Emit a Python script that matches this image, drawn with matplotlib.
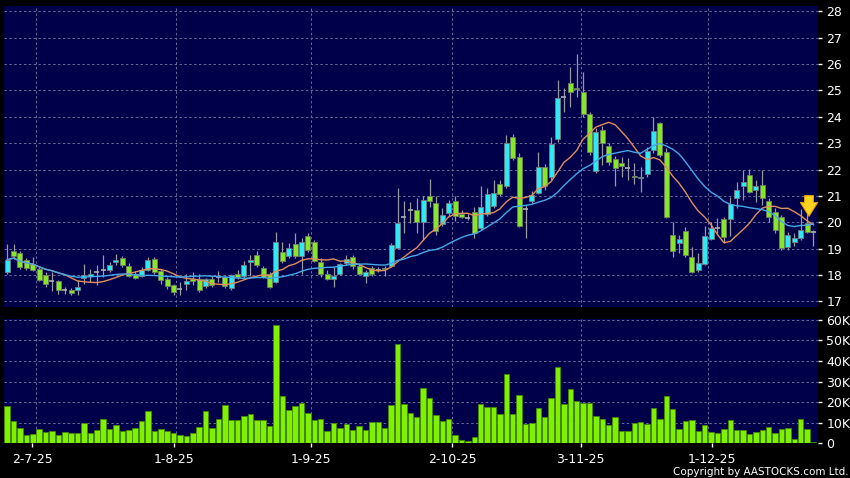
import matplotlib
matplotlib.use("Agg")
import matplotlib.pyplot as plt
import pandas as pd

# ---- daily OHLC (25-6-25 .. end of Dec 25) ----
opens = [18.13, 18.90, 18.84, 18.58, 18.43, 18.24, 17.99, 17.76, 17.77, 17.42,
         17.45, 17.42, 17.90, 17.96, 18.12, 18.18, 18.18, 18.50, 18.66, 18.36,
         18.05, 17.95, 18.20, 18.62, 18.15, 17.86, 17.61, 17.48, 17.67, 17.86,
         17.86, 17.58, 17.86, 17.92, 17.92, 17.50, 18.04, 17.97, 18.50, 18.76,
         18.26, 18.03, 17.75, 18.89, 18.72, 19.17, 18.72, 19.50, 19.24, 18.51,
         18.03, 17.86, 18.03, 18.45, 18.70, 18.36, 17.97, 18.28, 18.20, 18.27,
         18.34, 19.02, 20.19, 20.48, 20.48, 20.01, 20.98, 20.73, 19.95, 20.35,
         20.79, 20.31, 20.17, 20.41, 19.78, 20.33, 20.63, 21.46, 21.38, 23.25,
         22.47, 20.50, 20.79, 21.13, 22.09, 21.71, 23.15, 24.76, 25.27, 25.09,
         24.95, 24.11, 21.93, 23.50, 22.90, 22.39, 22.24, 22.05, 21.77, 21.67,
         21.83, 22.74, 23.75, 22.68, 19.52, 19.20, 19.68, 18.70, 18.19, 18.42,
         19.35, 19.80, 20.11, 20.11, 20.91, 21.38, 21.79, 21.22, 21.41, 20.81,
         20.40, 20.21, 19.05, 19.24, 19.39, 19.98, 19.62]
highs = [19.19, 19.16, 18.90, 18.65, 18.68, 18.30, 18.12, 18.12, 17.80, 17.55,
         17.52, 17.80, 18.43, 18.25, 18.40, 18.75, 18.48, 18.80, 18.72, 18.45,
         18.17, 18.30, 18.70, 18.70, 18.24, 17.92, 17.67, 17.74, 18.05, 18.12,
         18.05, 17.90, 17.95, 18.17, 18.00, 18.05, 18.20, 18.55, 18.76, 18.93,
         18.35, 18.13, 19.65, 19.27, 19.20, 19.61, 19.39, 19.60, 19.33, 18.64,
         18.20, 18.32, 18.47, 18.76, 18.76, 18.45, 18.20, 18.35, 18.30, 18.35,
         19.20, 21.30, 20.82, 20.78, 20.92, 21.00, 21.64, 20.98, 20.54, 20.86,
         21.00, 20.45, 20.30, 20.60, 21.36, 21.30, 21.61, 21.61, 23.31, 23.35,
         22.62, 20.65, 21.17, 22.65, 22.21, 23.25, 25.39, 25.08, 25.87, 26.38,
         25.71, 24.20, 23.56, 23.65, 23.00, 22.50, 22.49, 22.42, 22.24, 22.11,
         22.87, 24.00, 23.81, 22.81, 20.02, 19.52, 19.83, 19.08, 18.82, 19.86,
         20.02, 20.15, 20.21, 20.95, 21.54, 21.98, 22.04, 21.60, 22.00, 20.91,
         20.53, 20.27, 19.65, 19.58, 20.49, 20.34, 19.71]
lows = [18.05, 18.62, 18.25, 18.20, 18.15, 17.78, 17.55, 17.38, 17.29, 17.30,
        17.23, 17.25, 17.67, 17.74, 17.63, 17.93, 18.12, 18.39, 18.30, 17.93,
        17.87, 17.93, 18.15, 18.06, 17.68, 17.48, 17.23, 17.23, 17.42, 17.64,
        17.36, 17.52, 17.55, 17.75, 17.50, 17.45, 17.85, 17.90, 17.97, 18.30,
        17.90, 17.50, 17.70, 18.45, 18.63, 18.63, 18.05, 18.88, 18.51, 17.94,
        17.81, 17.56, 18.00, 18.38, 18.25, 18.00, 17.70, 17.98, 18.10, 17.95,
        18.29, 18.99, 19.58, 19.96, 19.60, 19.34, 20.60, 19.53, 19.85, 20.23,
        20.04, 20.16, 20.10, 19.40, 19.72, 20.23, 20.54, 20.98, 21.29, 22.37,
        19.82, 19.40, 20.73, 21.08, 21.23, 21.61, 23.06, 24.20, 24.39, 24.76,
        24.00, 22.55, 21.87, 22.18, 22.18, 21.36, 21.73, 21.60, 21.45, 21.16,
        21.73, 22.61, 22.49, 20.15, 18.70, 18.83, 18.70, 18.09, 18.13, 18.38,
        19.32, 19.58, 19.20, 19.50, 20.53, 20.84, 21.10, 20.78, 20.66, 20.02,
        19.58, 18.97, 18.97, 19.10, 19.33, 19.58, 19.10]
closes = [18.58, 18.71, 18.30, 18.28, 18.20, 17.82, 17.67, 17.76, 17.44, 17.42,
          17.34, 17.55, 18.01, 18.05, 18.12, 18.18, 18.40, 18.58, 18.38, 17.98,
          17.90, 18.20, 18.56, 18.12, 17.82, 17.57, 17.36, 17.48, 17.76, 17.77,
          17.42, 17.85, 17.61, 17.92, 17.59, 18.00, 17.91, 18.38, 18.56, 18.38,
          17.94, 17.56, 19.27, 18.52, 19.02, 18.72, 19.24, 18.95, 18.55, 18.04,
          17.85, 17.97, 18.41, 18.62, 18.34, 18.03, 18.10, 18.03, 18.20, 18.22,
          19.14, 19.96, 20.19, 20.48, 20.00, 20.83, 20.80, 19.66, 20.29, 20.73,
          20.25, 20.22, 20.17, 19.59, 20.60, 21.07, 21.10, 21.08, 23.00, 22.43,
          19.85, 20.50, 21.04, 22.09, 21.38, 22.97, 24.70, 24.76, 24.95, 25.04,
          24.11, 22.68, 23.44, 23.00, 22.27, 22.05, 22.13, 22.05, 21.70, 21.73,
          22.72, 23.47, 22.55, 20.19, 18.92, 19.35, 18.76, 18.13, 18.44, 19.48,
          19.77, 19.80, 19.43, 20.69, 21.22, 21.54, 21.16, 21.38, 20.91, 20.21,
          19.71, 19.01, 19.52, 19.39, 19.71, 19.62, 19.62]
# volume in thousands of shares
volumes_k = [18.1, 10.8, 7.4, 4.2, 4.7, 6.8, 5.5, 6.0, 3.9, 5.5,
             5.0, 5.3, 10.0, 5.0, 6.6, 11.8, 6.8, 8.9, 6.1, 6.5,
             7.4, 11.0, 15.5, 6.0, 6.8, 6.0, 4.9, 4.0, 3.7, 5.0,
             8.1, 15.5, 7.4, 11.8, 18.6, 11.2, 11.3, 13.4, 14.4, 11.2,
             11.2, 8.6, 57.4, 23.0, 16.2, 18.3, 19.6, 14.9, 11.3, 12.1,
             6.1, 9.9, 7.6, 9.4, 6.5, 8.3, 6.3, 10.5, 10.5, 7.3,
             18.6, 48.2, 18.9, 14.9, 12.6, 27.0, 22.0, 13.6, 10.7, 11.8,
             3.9, 1.5, 1.3, 3.1, 19.1, 17.6, 17.8, 14.2, 33.8, 14.1,
             23.3, 9.4, 10.0, 17.2, 12.6, 22.0, 36.9, 18.9, 26.5, 20.4,
             19.6, 19.4, 13.3, 11.7, 8.9, 13.0, 6.2, 6.2, 9.9, 10.4,
             9.6, 17.3, 12.0, 22.9, 16.9, 6.8, 10.7, 11.3, 6.0, 8.9,
             5.5, 4.9, 7.0, 11.3, 6.3, 6.6, 4.5, 5.8, 6.6, 7.8,
             4.9, 6.8, 7.5, 2.4, 11.8, 7.1, 0.6]

date_labels = ["2-7-25", "1-8-25", "1-9-25", "2-10-25", "3-11-25", "1-12-25"]
date_ticks = [3.92, 26.1, 47.4, 69.55, 89.6, 110.1]
date_grid = [4.5, 26.4, 47.4, 69.55, 89.6, 109.5]
price_ticks = list(range(17, 29))
vol_ticks = [0, 10, 20, 30, 40, 50, 60]
vol_labels = ["0", "10K", "20K", "30K", "40K", "50K", "60K"]

NAVY = "#00004a"
GRID = "#6a6a9c"
UP = "#2ee8f2"
DOWN = "#86e62a"
WICK = "#9a9a9a"

df = pd.DataFrame({"o": opens, "h": highs, "l": lows, "c": closes, "v": volumes_k})
df["ma10"] = df["c"].rolling(10, min_periods=1).mean()
df["ma20"] = df["c"].rolling(20, min_periods=1).mean()
x = df.index.values

fig = plt.figure(figsize=(8.5, 4.78), dpi=100, facecolor="black")
ax1 = fig.add_axes([0.0047, 0.3577, 0.9576, 0.6297], facecolor=NAVY)
ax2 = fig.add_axes([0.0047, 0.0722, 0.9576, 0.2604], facecolor=NAVY)

for ax in (ax1, ax2):
    ax.set_xlim(-0.5, 126.7)
    for s in ax.spines.values():
        s.set_visible(False)
    ax.yaxis.tick_right()
    ax.tick_params(axis="y", colors="white", labelcolor="white", length=3,
                   width=1, pad=3, labelsize=9)
    for g in date_grid:
        ax.axvline(g, color=GRID, lw=0.7, ls=(0, (2.5, 2.5)), zorder=0)

# ---- price panel ----
ax1.set_ylim(16.79, 28.2)
ax1.set_yticks(price_ticks)
ax1.set_xticks([])
for p in price_ticks:
    ax1.axhline(p, color=GRID, lw=0.7, ls=(0, (2.5, 2.5)), zorder=0)

ax1.vlines(x, df["l"], df["h"], color=WICK, lw=0.9, zorder=2)
up = df["c"] > df["o"]
dn = df["c"] < df["o"]
eq = df["c"] == df["o"]
w = 0.78
ax1.bar(x[up], (df["c"] - df["o"])[up], bottom=df["o"][up], width=w,
        color=UP, edgecolor="#6f7f86", lw=0.6, zorder=3)
ax1.bar(x[dn], (df["o"] - df["c"])[dn], bottom=df["c"][dn], width=w,
        color=DOWN, edgecolor="#6f8060", lw=0.6, zorder=3)
ax1.hlines(df["c"][eq], x[eq] - w / 2, x[eq] + w / 2, color="#b0b0b0", lw=1.2, zorder=3)

ax1.plot(x, df["ma10"], color="#e08f5c", lw=1.0, zorder=4)
ax1.plot(x, df["ma20"], color="#45a8e8", lw=1.0, zorder=4)

# marker arrow over the latest session
ax1.annotate("", xy=(125.3, 20.12), xytext=(125.3, 21.12),
             arrowprops=dict(arrowstyle="simple,head_width=1.25,head_length=1.0,tail_width=0.65",
                             fc="#ffd21f", ec="#e09a00", lw=0.7), zorder=5)

# ---- volume panel ----
ax2.set_ylim(0, 60.3)
ax2.set_yticks(vol_ticks)
ax2.set_yticklabels(vol_labels)
for v in vol_ticks[1:]:
    ax2.axhline(v, color=GRID, lw=0.7, ls=(0, (2.5, 2.5)), zorder=0)
ax2.bar(x, df["v"], width=0.86, color="#80f000", edgecolor="#3f8a00", lw=0.6, zorder=3)
ax2.set_xticks(date_ticks)
ax2.set_xticklabels(date_labels)
ax2.tick_params(axis="x", colors="white", labelcolor="white", length=3, width=1,
                pad=4, labelsize=9)

fig.text(0.998, 0.013, "Copyright by AASTOCKS.com Ltd.", color="white",
         fontsize=7.5, ha="right", va="center")

fig.savefig("out.png", dpi=100, facecolor="black")
